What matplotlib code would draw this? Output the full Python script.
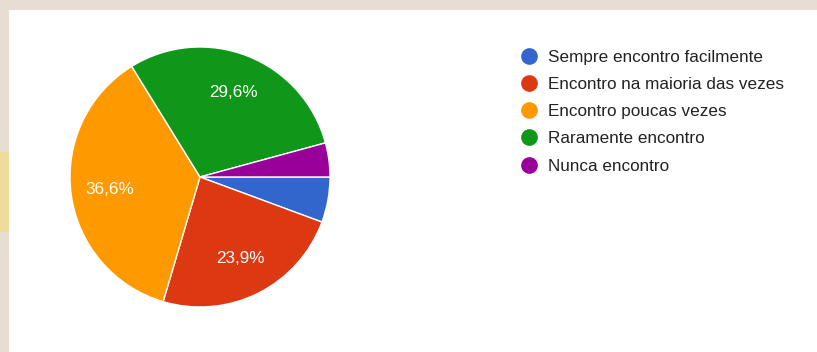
import matplotlib.pyplot as plt
from matplotlib.lines import Line2D
from matplotlib.patches import Rectangle

categorias = ["Sempre encontro facilmente", "Encontro na maioria das vezes",
              "Encontro poucas vezes", "Raramente encontro", "Nunca encontro"]
respostas = [4, 17, 26, 21, 3]
cores = ["#3366cc", "#dc3912", "#ff9900", "#109618", "#990099"]

plt.rcParams['font.family'] = ['Liberation Sans', 'DejaVu Sans']

fig = plt.figure(figsize=(8.17, 3.52), dpi=100)
fig.patch.set_facecolor("#e7ddd3")
# cartao branco do formulario
fig.patches.append(Rectangle((9 / 817, 0), 1, 1 - 10 / 352, transform=fig.transFigure,
                             facecolor="white", edgecolor="none", zorder=-2))
fig.patches.append(Rectangle((0, 120 / 352), 9 / 817, 80 / 352, transform=fig.transFigure,
                             facecolor="#eedc9a", edgecolor="none", zorder=-2))

cx, cy, r = 200, 352 - 177, 130
ax = fig.add_axes([(cx - r) / 817, (cy - r) / 352, 2 * r / 817, 2 * r / 352])
ax.set_zorder(1)


def rotulo(p):
    if p < 10:
        return ""
    return ("%.1f%%" % p).replace(".", ",")


ax.pie(respostas, colors=cores, startangle=0, counterclock=False,
       autopct=rotulo, pctdistance=0.7, radius=1,
       wedgeprops=dict(edgecolor="white", linewidth=1),
       textprops=dict(color="white", fontsize=12.3))
ax.set_xlim(-1, 1)
ax.set_ylim(-1, 1)
ax.axis("off")

alcas = [Line2D([], [], marker="o", linestyle="none", markersize=11,
                markerfacecolor=c, markeredgecolor=c) for c in cores]
fig.legend(alcas, categorias, loc="upper left", bbox_to_anchor=(520 / 817, 1 - 50 / 352),
           frameon=False, fontsize=12.3, labelcolor="#222222", handlelength=1.0,
           handletextpad=0.65, labelspacing=0.71, borderpad=0, borderaxespad=0)

fig.savefig("out.png", dpi=100, facecolor=fig.get_facecolor())
